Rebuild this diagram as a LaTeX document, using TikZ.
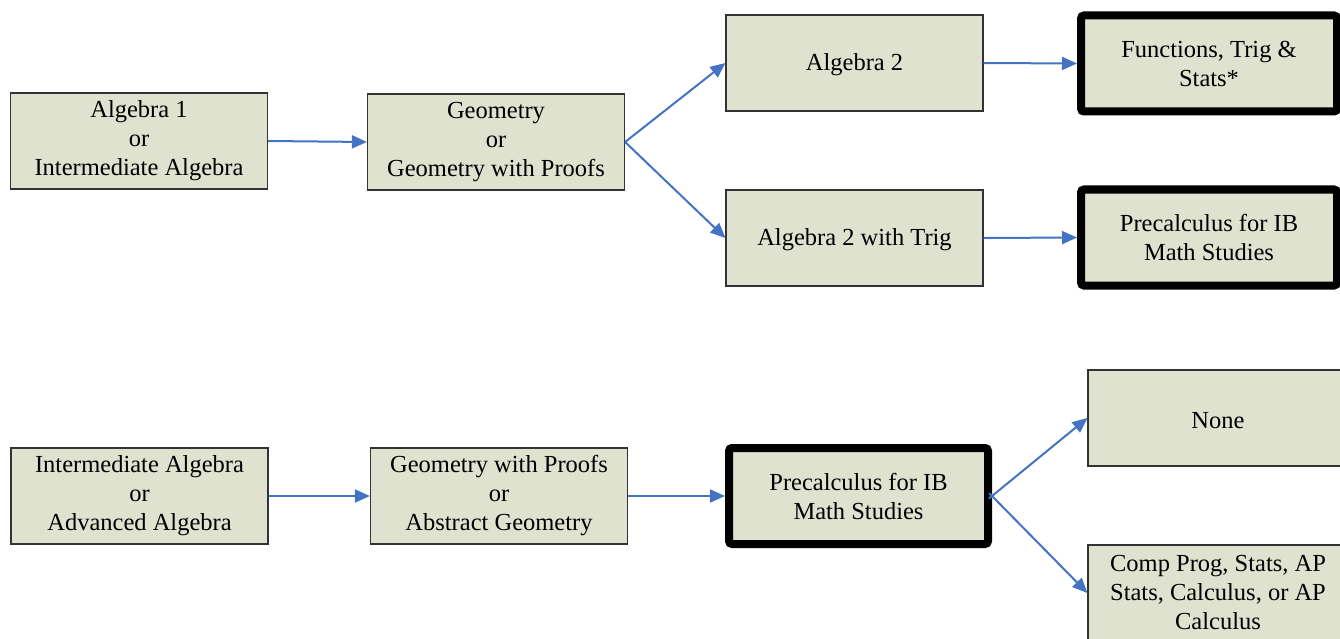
\documentclass[tikz,border=0pt]{standalone}
\usepackage{fontspec}
\setmainfont{Liberation Serif}
\usepackage{xcolor,tikz}
\usetikzlibrary{arrows.meta}
\definecolor{boxfill}{RGB}{222,226,207}
\definecolor{flowblue}{RGB}{68,114,196}
\tikzset{>={Triangle[length=15pt,width=13pt]}}
\tikzset{course/.style={draw=black!80,line width=1.2pt,fill=boxfill,minimum width=257pt,minimum height=96pt,inner sep=0pt,align=center,font=\fontsize{24.5}{29}\selectfont,execute at begin node={\rule{0pt}{20.5pt}}},
finalcourse/.style={course,draw=black,line width=8pt,rounded corners=3pt,minimum width=256pt,minimum height=96pt},
flow/.style={->,draw=flowblue,line width=2pt}}

\begin{document}
\begin{tikzpicture}[x=1pt,y=-1pt]
\useasboundingbox (0,0) rectangle (1340,639);
\clip (0,0) rectangle (1340,639);
\node[course] (alg1) at (139,141) {Algebra 1\\or\\Intermediate Algebra};
\node[course] (geo) at (496,142) {Geometry\\or\\Geometry with Proofs};
\node[course] (alg2) at (854.5,63) {Algebra 2};
\node[course] (alg2trig) at (854.5,238) {Algebra 2 with Trig};
\node[finalcourse] (fts) at (1209,63.5) {Functions, Trig \&\\Stats*};
\node[finalcourse] (preib) at (1209,237.5) {Precalculus for IB\\Math Studies};
\node[course] (intalg) at (139.5,496) {Intermediate Algebra\\or\\Advanced Algebra};
\node[course] (geoproof) at (499,496) {Geometry with Proofs\\or\\Abstract Geometry};
\node[finalcourse,minimum width=259pt] (preibb) at (858.5,496) {Precalculus for IB\\Math Studies};
\node[course,minimum width=260pt] (none) at (1218,418) {None};
\node[course,minimum width=260pt] (comp) at (1218,593) {Comp Prog, Stats, AP\\Stats, Calculus, or AP\\Calculus};
\draw[flow] (alg1.east)--(geo.west);
\draw[flow] (geo.east)--(alg2.west);
\draw[flow] (geo.east)--(alg2trig.west);
\draw[flow] (alg2.east)--(fts.west);
\draw[flow] (alg2trig.east)--(preib.west);
\draw[flow] (intalg.east)--(geoproof.west);
\draw[flow] (geoproof.east)--(preibb.west);
\draw[flow,shorten <=-4pt] (preibb.east)--(none.west);
\draw[flow,shorten <=-4pt] (preibb.east)--(comp.west);
\end{tikzpicture}
\end{document}
